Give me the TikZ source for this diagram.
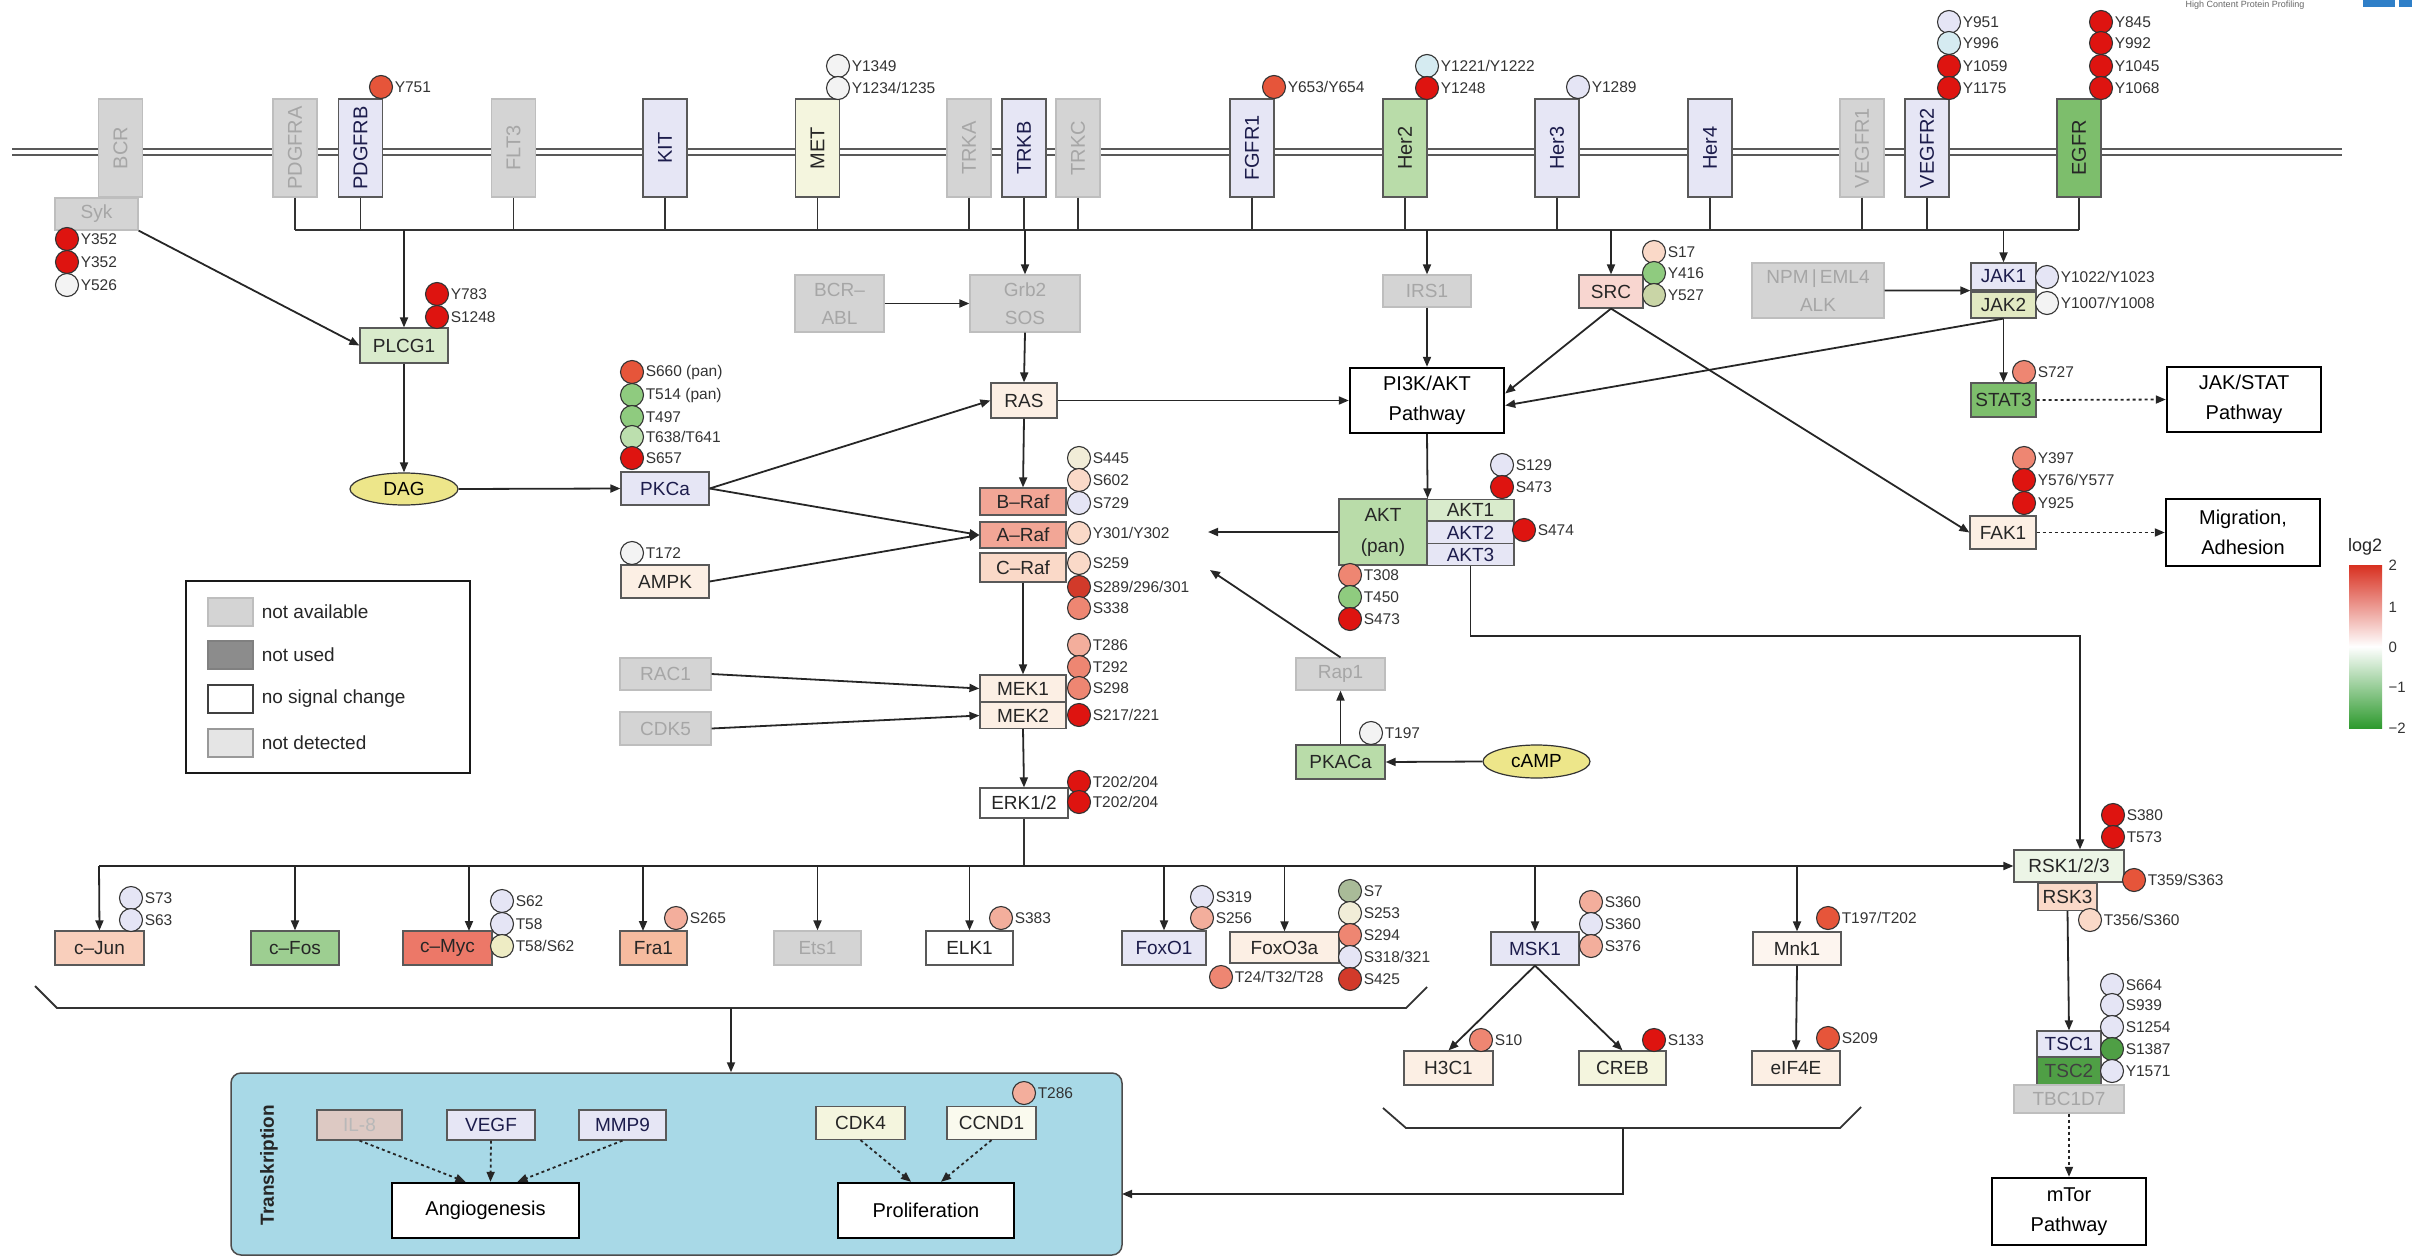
\documentclass[tikz,border=0pt]{standalone}
\usepackage{fontspec}
\setmainfont{Liberation Sans}
\usetikzlibrary{shapes}
\usetikzlibrary{positioning}
\usetikzlibrary{arrows.meta}
\definecolor{naFill}{HTML}{D4D4D4}
\definecolor{naDraw}{HTML}{BEBEBE}
\definecolor{naText}{HTML}{A6A6A6}
\definecolor{lavF}{HTML}{E6E6F5}
\definecolor{lavT}{HTML}{1C1C4C}
\definecolor{grnA}{HTML}{D9EBCC}
\definecolor{grnB}{HTML}{B9DCA9}
\definecolor{grnC}{HTML}{7DBE6C}
\definecolor{grnD}{HTML}{4F9F45}
\definecolor{yelA}{HTML}{F4F5DE}
\definecolor{yelB}{HTML}{E2E9C2}
\definecolor{pchA}{HTML}{FCEFE4}
\definecolor{pchB}{HTML}{FAD9C8}
\definecolor{pchC}{HTML}{F6BB9F}
\definecolor{rafF}{HTML}{F2A696}
\definecolor{mycF}{HTML}{EC7868}
\definecolor{srcF}{HTML}{F8D6D0}
\definecolor{dagF}{HTML}{EDE68A}
\definecolor{transF}{HTML}{A8D9E7}
\definecolor{pR}{HTML}{DE1410}
\definecolor{pRd}{HTML}{D23A2A}
\definecolor{pRo}{HTML}{E6553A}
\definecolor{pS}{HTML}{EE8672}
\definecolor{pSl}{HTML}{F3AE9C}
\definecolor{pP}{HTML}{FAD9C8}
\definecolor{pC}{HTML}{F1EDD8}
\definecolor{pW}{HTML}{F3F3F3}
\definecolor{pL}{HTML}{E5E5F5}
\definecolor{pB}{HTML}{D5EBF1}
\definecolor{pG}{HTML}{8FCB7F}
\definecolor{pGl}{HTML}{BCDFAE}
\definecolor{pO}{HTML}{C9D5A6}
\definecolor{pGg}{HTML}{A9BB98}
\definecolor{pY}{HTML}{EEECC4}
\definecolor{cbR}{HTML}{D83020}
\definecolor{cbG}{HTML}{2E9A2E}
\definecolor{logoB}{HTML}{2F7FC8}
\tikzset{
    prot/.style = {rectangle, draw=black!65, line width=1.2pt, inner sep=0pt, align=center, font=\fontsize{19}{28}\selectfont, text=black!85},
    protl/.style = {prot, fill=lavF, text=lavT},
    protna/.style = {prot, draw=naDraw, fill=naFill, text=naText},
    recep/.style = {prot, minimum width=44pt, minimum height=98pt, font=\fontsize{20}{20}\selectfont},
    recl/.style = {recep, fill=lavF, text=lavT},
    recna/.style = {recep, draw=naDraw, fill=naFill, text=naText},
    pathbox/.style = {rectangle, draw=black, line width=2.4pt, fill=white, align=center, minimum width=154pt, minimum height=65pt, font=\fontsize{20}{30}\selectfont},
    molec/.style = {ellipse, draw=black!80, line width=1.2pt, fill=dagF, inner sep=0pt, font=\fontsize{19}{19}\selectfont},
    site/.style = {circle, draw=black!80, line width=1.1pt, minimum size=23pt, inner sep=0pt},
    slab/.style = {font=\fontsize{15.5}{15.5}\selectfont, inner sep=1.5pt, text=black!80},
    swatch/.style = {rectangle, minimum width=45pt, minimum height=28pt, inner sep=0pt, line width=1.2pt},
    legl/.style = {font=\fontsize{19}{19}\selectfont, inner sep=8pt, text=black!85},
    tick/.style = {anchor=west, font=\fontsize{15}{15}\selectfont, text=black!80},
    arr/.style = {-{Triangle[length=10pt,width=8pt]}, line width=1.8pt, black!85},
    darr/.style = {arr, dash pattern=on 3pt off 3pt},
    link/.style = {-, line width=1.8pt, black!80},
    membrane/.style = {line width=1.6pt, black!65}
}
\begin{document}
\begin{tikzpicture}[x=1pt,y=-1pt]
\useasboundingbox (0,0) rectangle (2412,1258);
% membrane
\draw[membrane] (12,149) -- (2342,149);
\draw[membrane] (12,155) -- (2342,155);
%
\node[recna] at (120.5,148) (bcr) {\rotatebox{90}{BCR}};
\node[recna] at (295,148) (pdgfra) {\rotatebox{90}{PDGFRA}};
\node[recl] at (360.5,148) (pdgfrb) {\rotatebox{90}{PDGFRB}};
\node[recna] at (513.5,148) (flt3) {\rotatebox{90}{FLT3}};
\node[recl] at (665,148) (kit) {\rotatebox{90}{KIT}};
\node[recep,fill=yelA] at (817.5,148) (met) {\rotatebox{90}{MET}};
\node[recna] at (969,148) (trka) {\rotatebox{90}{TRKA}};
\node[recl] at (1024,148) (trkb) {\rotatebox{90}{TRKB}};
\node[recna] at (1078,148) (trkc) {\rotatebox{90}{TRKC}};
\node[recl] at (1252,148) (fgfr1) {\rotatebox{90}{FGFR1}};
\node[recep,fill=grnB] at (1405,148) (her2) {\rotatebox{90}{Her2}};
\node[recl] at (1557,148) (her3) {\rotatebox{90}{Her3}};
\node[recl] at (1710,148) (her4) {\rotatebox{90}{Her4}};
\node[recna] at (1862,148) (vegfr1) {\rotatebox{90}{VEGFR1}};
\node[recl] at (1927,148) (vegfr2) {\rotatebox{90}{VEGFR2}};
\node[recep,fill=grnC] at (2079,148) (egfr) {\rotatebox{90}{EGFR}};
%
\node[protna, minimum width=83pt, minimum height=32pt] at (96.5,214) (syk) {Syk};
\node[prot, fill=grnA, minimum width=88pt, minimum height=35pt] at (404,345.5) (plcg1) {PLCG1};
\node[molec, minimum width=108pt, minimum height=32pt] at (404,489) (dag) {DAG};
\node[protl, minimum width=88pt, minimum height=33pt] at (665,488.5) (pkca) {PKCa};
\node[prot, fill=pchA, minimum width=88pt, minimum height=33pt] at (665,581.5) (ampk) {AMPK};
\node[protna, minimum width=89pt, minimum height=57pt] at (839.5,303.5) (bcrabl) {BCR–\\ABL};
\node[protna, minimum width=110pt, minimum height=57pt] at (1025,303.5) (grb2) {Grb2\\SOS};
\node[prot, fill=pchA, minimum width=66pt, minimum height=35pt] at (1024,400.5) (ras) {RAS};
\node[prot, fill=rafF, minimum width=86pt, minimum height=27pt] at (1023,501.5) (braf) {B–Raf};
\node[prot, fill=rafF, minimum width=86pt, minimum height=26pt] at (1023,535) (araf) {A–Raf};
\node[prot, fill=pchB, minimum width=86pt, minimum height=29pt] at (1023,567.5) (craf) {C–Raf};
\node[protna, minimum width=91pt, minimum height=32pt] at (665.5,674) (rac1) {RAC1};
\node[protna, minimum width=91pt, minimum height=33pt] at (665.5,728.5) (cdk5) {CDK5};
\node[prot, fill=pchA, minimum width=86pt, minimum height=27pt] at (1023,688.5) (mek1) {MEK1};
\node[prot, fill=pchA, minimum width=86pt, minimum height=26pt] at (1023,715.5) (mek2) {MEK2};
\node[prot, fill=white, minimum width=88pt, minimum height=30pt] at (1024,803) (erk) {ERK1/2};
\node[protna, minimum width=88pt, minimum height=32pt] at (1427,291) (irs1) {IRS1};
\node[prot, fill=srcF, minimum width=64pt, minimum height=33pt] at (1611,291.5) (src) {SRC};
\node[protna, minimum width=132pt, minimum height=55pt] at (1818,290.5) (npm) {NPM\,|\,EML4\\ALK};
\node[protl, minimum width=65pt, minimum height=27pt] at (2003.5,276.5) (jak1) {JAK1};
\node[prot, fill=yelB, minimum width=65pt, minimum height=26pt] at (2003.5,305) (jak2) {JAK2};
\node[prot, fill=grnC, minimum width=65pt, minimum height=34pt] at (2003.5,400) (stat3) {STAT3};
\node[prot, fill=pchA, minimum width=66pt, minimum height=33pt] at (2003,532.5) (fak1) {FAK1};
\node[pathbox] at (1427,400.5) (pi3k) {PI3K/AKT\\Pathway};
\node[pathbox] at (2244,399.5) (jakstat) {JAK/STAT\\Pathway};
\node[pathbox, minimum height=67pt] at (2243,532.5) (migr) {Migration,\\Adhesion};
\node[prot, fill=grnB, minimum width=88pt, minimum height=66pt, font=\fontsize{19}{31}\selectfont] at (1383,532) (akt) {AKT\\(pan)};
\node[prot, fill=grnA, minimum width=87pt, minimum height=21pt] at (1470.5,510) (akt1) {AKT1};
\node[protl, minimum width=87pt, minimum height=22pt] at (1470.5,532.5) (akt2) {AKT2};
\node[protl, minimum width=87pt, minimum height=22pt] at (1470.5,554.5) (akt3) {AKT3};
\node[protna, minimum width=89pt, minimum height=32pt] at (1340.5,674) (rap1) {Rap1};
\node[prot, fill=grnB, minimum width=89pt, minimum height=34pt] at (1340.5,762) (pkaca) {PKACa};
\node[molec, minimum width=107pt, minimum height=33pt] at (1536.5,761.5) (camp) {cAMP};
\coordinate (rafIn) at (1208,532);
\coordinate (rafIn2) at (1210,570);
\coordinate (rskTurn) at (2080,636);
%
\node[prot, fill=pchC!70, minimum width=89pt, minimum height=34pt] at (99.5,948) (cjun) {c–Jun};
\node[prot, fill=grnC!75, minimum width=88pt, minimum height=34pt] at (295,948) (cfos) {c–Fos};
\node[prot, fill=mycF, minimum width=89pt, minimum height=34pt] at (447.5,948) (cmyc) {c–Myc};
\node[prot, fill=pchC, minimum width=67pt, minimum height=34pt] at (653.5,948) (fra1) {Fra1};
\node[protna, minimum width=87pt, minimum height=34pt] at (817.5,948) (ets1) {Ets1};
\node[prot, fill=white, minimum width=87pt, minimum height=34pt] at (969.5,948) (elk1) {ELK1};
\node[protl, minimum width=84pt, minimum height=34pt] at (1164,948) (foxo1) {FoxO1};
\node[prot, fill=pchA, minimum width=109pt, minimum height=31pt] at (1284.5,947.5) (foxo3a) {FoxO3a};
\node[protl, minimum width=88pt, minimum height=33pt] at (1535,948.5) (msk1) {MSK1};
\node[prot, fill=pchA!60, minimum width=88pt, minimum height=33pt] at (1797,948.5) (mnk1) {Mnk1};
\node[prot, fill=pchA, minimum width=89pt, minimum height=34pt] at (1448.5,1068) (h3c1) {H3C1};
\node[prot, fill=yelA, minimum width=87pt, minimum height=34pt] at (1622.5,1068) (creb) {CREB};
\node[prot, fill=pchA, minimum width=88pt, minimum height=34pt] at (1796,1068) (eif4e) {eIF4E};
\node[prot, fill=grnA!50, minimum width=110pt, minimum height=32pt] at (2069,866) (rsk) {RSK1/2/3};
\node[prot, fill=pchB, minimum width=59pt, minimum height=27pt] at (2067.5,897) (rsk3) {RSK3};
\node[protl, minimum width=64pt, minimum height=26pt] at (2069,1044) (tsc1) {TSC1};
\node[prot, fill=grnD, text=black!75, minimum width=64pt, minimum height=28pt] at (2069,1071) (tsc2) {TSC2};
\node[protna, minimum width=110pt, minimum height=28pt] at (2069,1099) (tbc) {TBC1D7};
\node[pathbox, minimum height=67pt] at (2069,1211.5) (mtor) {mTor\\Pathway};
\coordinate (bbus) at (99,866);
\coordinate (mycIn) at (469,931);
\coordinate (fraIn) at (643,931);
% transcription
\node[draw=black!70, line width=1.5pt, fill=transF, rounded corners=10pt, minimum width=891pt, minimum height=182pt] at (676.5,1164) (trans) {};
\node[rotate=90, font=\bfseries\fontsize{19}{19}\selectfont, text=black!85] at (269,1165) (transLbl) {Transkription};
\node[prot, fill=naFill!70!pSl, text=naText!80, minimum width=85pt, minimum height=30pt] at (359.5,1125) (il8) {IL-8};
\node[protl, minimum width=88pt, minimum height=30pt] at (491,1125) (vegf) {VEGF};
\node[protl, minimum width=87pt, minimum height=30pt] at (622.5,1125) (mmp9) {MMP9};
\node[prot, fill=yelA, minimum width=89pt, minimum height=33pt] at (860.5,1123) (cdk4) {CDK4};
\node[prot, fill=yelA!50, minimum width=89pt, minimum height=33pt] at (991.5,1123) (ccnd1) {CCND1};
\node[pathbox, minimum width=187pt, minimum height=55pt] at (485.5,1210.5) (angio) {Angiogenesis};
\node[pathbox, minimum width=176pt, minimum height=55pt] at (926,1210.5) (prolif) {Proliferation};
\coordinate (br1) at (731,1008);
\coordinate (br2) at (1623,1128);
\coordinate (transIn) at (1122,1194);
% legend
\node[draw=black!90, line width=2.4pt, minimum width=284pt, minimum height=192pt, inner sep=0pt] at (328,677) (legend) {};
\node[swatch, fill=naFill, draw=naDraw, label={[legl]right:not available}] at (230.5,612) (lgNA) {};
\node[swatch, fill=black!45, draw=black!50, label={[legl]right:not used}] at (230.5,655) (lgNU) {};
\node[swatch, fill=white, draw=black!75, label={[legl]right:no signal change}] at (230.5,699) (lgNS) {};
\node[swatch, fill=black!10, draw=black!40, label={[legl]right:not detected}] at (230.5,743) (lgND) {};
% log2 scale
\node[font=\fontsize{18}{18}\selectfont, text=black!85] at (2365,547) (log2) {log2};
\shade[top color=cbR, bottom color=cbG, middle color=white] (2349,565) rectangle (2382,728);
\node[tick] at (2385,565) (tk2) {2};
\node[tick] at (2385,607) (tk1) {1};
\node[tick] at (2385,647) (tk0) {0};
\node[tick] at (2385,687) (tkm1) {−1};
\node[tick] at (2385,728) (tkm2) {−2};
\node[anchor=north, font=\fontsize{9}{9}\selectfont, text=black!60] at (2245,-3) (hcpp) {High Content Protein Profiling};
\fill[logoB] (2363,-4) rectangle (2395,7);
\fill[logoB] (2399,-4) rectangle (2412,7);
%
\coordinate (bus) at (295,230);
\coordinate (busE) at (2079,230);
\draw[link] (pdgfra.south) -- (pdgfra.south |- bus);
\draw[link] (pdgfrb.south) -- (pdgfrb.south |- bus);
\draw[link] (flt3.south) -- (flt3.south |- bus);
\draw[link] (kit.south) -- (kit.south |- bus);
\draw[link] (met.south) -- (met.south |- bus);
\draw[link] (trka.south) -- (trka.south |- bus);
\draw[link] (trkb.south) -- (trkb.south |- bus);
\draw[link] (trkc.south) -- (trkc.south |- bus);
\draw[link] (fgfr1.south) -- (fgfr1.south |- bus);
\draw[link] (her2.south) -- (her2.south |- bus);
\draw[link] (her3.south) -- (her3.south |- bus);
\draw[link] (her4.south) -- (her4.south |- bus);
\draw[link] (vegfr1.south) -- (vegfr1.south |- bus);
\draw[link] (vegfr2.south) -- (vegfr2.south |- bus);
\draw[link] (egfr.south) -- (egfr.south |- bus);
\draw[link] (bus) -- (busE);
\draw[arr] (plcg1.north |- bus) -- (plcg1.north);
\draw[arr] (grb2.north |- bus) -- (grb2.north);
\draw[arr] (irs1.north |- bus) -- (irs1.north);
\draw[arr] (src.north |- bus) -- (src.north);
\draw[arr] (jak1.north |- bus) -- (jak1.north);
%
\draw[arr] (syk.south east) -- (plcg1.west);
\draw[arr] (plcg1.south) -- (dag.north);
\draw[arr] (dag.east) -- (pkca.west);
\draw[arr] (bcrabl.east) -- (grb2.west);
\draw[arr] (grb2.south) -- (ras.north);
\draw[arr] (pkca.east) -- (ras.west);
\draw[arr] (pkca.east) -- (araf.west);
\draw[arr] (ampk.east) -- (araf.west);
\draw[arr] (ras.south) -- (braf.north);
\draw[arr] (ras.east) -- (pi3k.west);
\draw[arr] (craf.south) -- (mek1.north);
\draw[arr] (rac1.east) -- (mek1.west);
\draw[arr] (cdk5.east) -- (mek2.west);
\draw[arr] (mek2.south) -- (erk.north);
\draw[arr] (irs1.south) -- (pi3k.north);
\draw[arr] (src.south) -- ([yshift=7pt]pi3k.east);
\draw[arr] (jak2.south) -- ([yshift=-5pt]pi3k.east);
\draw[arr] (src.south) -- (fak1.west);
\draw[arr] (npm.east) -- (jak1.south west);
\draw[arr] (jak2.south) -- (stat3.north);
\draw[darr] (stat3.east) -- (jakstat.west);
\draw[darr] (fak1.east) -- (migr.west);
\draw[arr] (pi3k.south) -- (akt.north east);
\draw[arr] (akt.west) -- (rafIn);
\draw[arr] (rap1.north) -- (rafIn2);
\draw[arr] (pkaca.north) -- (rap1.south);
\draw[arr] (camp.west) -- (pkaca.east);
\draw[arr] (akt3.south) |- (rskTurn) -- (rskTurn |- rsk.north);
%
\draw[link] (erk.south) -- (erk.south |- bbus);
\draw[arr] (bbus) -- (rsk.west);
\draw[arr] (bbus) -- (cjun.north);
\draw[arr] (cfos.north |- bbus) -- (cfos.north);
\draw[arr] (mycIn |- bbus) -- (mycIn);
\draw[arr] (fraIn |- bbus) -- (fraIn);
\draw[arr] (ets1.north |- bbus) -- (ets1.north);
\draw[arr] (elk1.north |- bbus) -- (elk1.north);
\draw[arr] (foxo1.north |- bbus) -- (foxo1.north);
\draw[arr] (foxo3a.north |- bbus) -- (foxo3a.north);
\draw[arr] (msk1.north |- bbus) -- (msk1.north);
\draw[arr] (mnk1.north |- bbus) -- (mnk1.north);
\draw[arr] (msk1.south) -- (h3c1.north);
\draw[arr] (msk1.south) -- (creb.north);
\draw[arr] (mnk1.south) -- (eif4e.north);
\draw[arr] (rsk3.south) -- (tsc1.north);
\draw[darr] (tbc.south) -- (mtor.north);
% brackets
\draw[link] (35,986) -- (57,1008) -- (1406,1008) -- (1427,987);
\draw[arr] (br1) -- (br1 |- trans.north);
\draw[link] (1383,1108) -- (1406,1128) -- (1840,1128) -- (1861,1107);
\draw[arr] (br2) |- (transIn);
\draw[darr] (il8.south) -- ([xshift=-20pt]angio.north);
\draw[darr] (vegf.south) -- ([xshift=5pt]angio.north);
\draw[darr] (mmp9.south) -- ([xshift=32pt]angio.north);
\draw[darr] (cdk4.south) -- ([xshift=-15pt]prolif.north);
\draw[darr] (ccnd1.south) -- ([xshift=15pt]prolif.north);
% sites
\node[site,fill=pR,label={[slab]right:Y352}] at (67,239) (sSyk1) {};
\node[site,fill=pR,label={[slab]right:Y352}] at (67,262) (sSyk2) {};
\node[site,fill=pW,label={[slab]right:Y526}] at (67,285) (sSyk3) {};
\node[site,fill=pRo,label={[slab]right:Y751}] at (381,87) (sPdgfrb) {};
\node[site,fill=pW,label={[slab]right:Y1349}] at (838,66) (sMet1) {};
\node[site,fill=pW,label={[slab]right:Y1234/1235}] at (838,88) (sMet2) {};
\node[site,fill=pRo,label={[slab]right:Y653/Y654}] at (1274,87) (sFgfr) {};
\node[site,fill=pB,label={[slab]right:Y1221/Y1222}] at (1427,66) (sHer2a) {};
\node[site,fill=pR,label={[slab]right:Y1248}] at (1427,88) (sHer2b) {};
\node[site,fill=pL,label={[slab]right:Y1289}] at (1578,87) (sHer3) {};
\node[site,fill=pL,label={[slab]right:Y951}] at (1949,22) (sVeg1) {};
\node[site,fill=pB,label={[slab]right:Y996}] at (1949,43) (sVeg2) {};
\node[site,fill=pR,label={[slab]right:Y1059}] at (1949,66) (sVeg3) {};
\node[site,fill=pR,label={[slab]right:Y1175}] at (1949,88) (sVeg4) {};
\node[site,fill=pR,label={[slab]right:Y845}] at (2101,22) (sEgf1) {};
\node[site,fill=pR,label={[slab]right:Y992}] at (2101,43) (sEgf2) {};
\node[site,fill=pR,label={[slab]right:Y1045}] at (2101,66) (sEgf3) {};
\node[site,fill=pR,label={[slab]right:Y1068}] at (2101,88) (sEgf4) {};
\node[site,fill=pR,label={[slab]right:Y783}] at (437,294) (sPlc1) {};
\node[site,fill=pR,label={[slab]right:S1248}] at (437,317) (sPlc2) {};
\node[site,fill=pP,label={[slab]right:S17}] at (1654,252) (sSrc1) {};
\node[site,fill=pG,label={[slab]right:Y416}] at (1654,273) (sSrc2) {};
\node[site,fill=pO,label={[slab]right:Y527}] at (1654,295) (sSrc3) {};
\node[site,fill=pL,label={[slab]right:Y1022/Y1023}] at (2047,277) (sJak1) {};
\node[site,fill=pW,label={[slab]right:Y1007/Y1008}] at (2047,303) (sJak2) {};
\node[site,fill=pS,label={[slab]right:S727}] at (2024,372) (sStat) {};
\node[site,fill=pRo,label={[slab]right:S660 (pan)}] at (632,372) (sPkc1) {};
\node[site,fill=pG,label={[slab]right:T514 (pan)}] at (632,395) (sPkc2) {};
\node[site,fill=pG,label={[slab]right:T497}] at (632,417) (sPkc3) {};
\node[site,fill=pGl,label={[slab]right:T638/T641}] at (632,437) (sPkc4) {};
\node[site,fill=pR,label={[slab]right:S657}] at (632,458) (sPkc5) {};
\node[site,fill=pW,label={[slab]right:T172}] at (632,553) (sAmpk) {};
\node[site,fill=pC,label={[slab]right:S445}] at (1079,458) (sRaf1) {};
\node[site,fill=pP,label={[slab]right:S602}] at (1079,480) (sRaf2) {};
\node[site,fill=pL,label={[slab]right:S729}] at (1079,503) (sRaf3) {};
\node[site,fill=pP,label={[slab]right:Y301/Y302}] at (1079,533) (sRaf4) {};
\node[site,fill=pP,label={[slab]right:S259}] at (1079,563) (sRaf5) {};
\node[site,fill=pRd,label={[slab]right:S289/296/301}] at (1079,587) (sRaf6) {};
\node[site,fill=pS,label={[slab]right:S338}] at (1079,608) (sRaf7) {};
\node[site,fill=pSl,label={[slab]right:T286}] at (1079,645) (sMek1) {};
\node[site,fill=pS,label={[slab]right:T292}] at (1079,667) (sMek2) {};
\node[site,fill=pS,label={[slab]right:S298}] at (1079,688) (sMek3) {};
\node[site,fill=pR,label={[slab]right:S217/221}] at (1079,715) (sMek4) {};
\node[site,fill=pR,label={[slab]right:T202/204}] at (1079,782) (sErk1) {};
\node[site,fill=pR,label={[slab]right:T202/204}] at (1079,802) (sErk2) {};
\node[site,fill=pL,label={[slab]right:S129}] at (1502,465) (sAkt1) {};
\node[site,fill=pR,label={[slab]right:S473}] at (1502,487) (sAkt2) {};
\node[site,fill=pR,label={[slab]right:S474}] at (1524,530) (sAkt3) {};
\node[site,fill=pS,label={[slab]right:T308}] at (1350,575) (sAkt4) {};
\node[site,fill=pG,label={[slab]right:T450}] at (1350,597) (sAkt5) {};
\node[site,fill=pR,label={[slab]right:S473}] at (1350,619) (sAkt6) {};
\node[site,fill=pW,label={[slab]right:T197}] at (1371,733) (sPka) {};
\node[site,fill=pS,label={[slab]right:Y397}] at (2024,458) (sFak1) {};
\node[site,fill=pR,label={[slab]right:Y576/Y577}] at (2024,480) (sFak2) {};
\node[site,fill=pR,label={[slab]right:Y925}] at (2024,503) (sFak3) {};
\node[site,fill=pR,label={[slab]right:S380}] at (2113,815) (sRsk1) {};
\node[site,fill=pR,label={[slab]right:T573}] at (2113,837) (sRsk2) {};
\node[site,fill=pRo,label={[slab]right:T359/S363}] at (2134,880) (sRsk3) {};
\node[site,fill=pP,label={[slab]right:T356/S360}] at (2090,920) (sRsk4) {};
\node[site,fill=pL,label={[slab]right:S664}] at (2112,985) (sTsc1) {};
\node[site,fill=pL,label={[slab]right:S939}] at (2112,1005) (sTsc2) {};
\node[site,fill=pL,label={[slab]right:S1254}] at (2112,1027) (sTsc3) {};
\node[site,fill=grnD,label={[slab]right:S1387}] at (2112,1049) (sTsc4) {};
\node[site,fill=pL,label={[slab]right:Y1571}] at (2112,1071) (sTsc5) {};
\node[site,fill=pL,label={[slab]right:S73}] at (131,898) (sJun1) {};
\node[site,fill=pL,label={[slab]right:S63}] at (131,920) (sJun2) {};
\node[site,fill=pL,label={[slab]right:S62}] at (502,901) (sMyc1) {};
\node[site,fill=pL,label={[slab]right:T58}] at (502,924) (sMyc2) {};
\node[site,fill=pY,label={[slab]right:T58/S62}] at (502,946) (sMyc3) {};
\node[site,fill=pSl,label={[slab]right:S265}] at (676,918) (sFra) {};
\node[site,fill=pSl,label={[slab]right:S383}] at (1001,918) (sElk) {};
\node[site,fill=pL,label={[slab]right:S319}] at (1202,897) (sFo1) {};
\node[site,fill=pSl,label={[slab]right:S256}] at (1202,918) (sFo2) {};
\node[site,fill=pS,label={[slab]right:T24/T32/T28}] at (1221,977) (sFo3) {};
\node[site,fill=pGg,label={[slab]right:S7}] at (1350,891) (sFox1) {};
\node[site,fill=pC,label={[slab]right:S253}] at (1350,913) (sFox2) {};
\node[site,fill=pS,label={[slab]right:S294}] at (1350,935) (sFox3) {};
\node[site,fill=pL,label={[slab]right:S318/321}] at (1350,957) (sFox4) {};
\node[site,fill=pRd,label={[slab]right:S425}] at (1350,979) (sFox5) {};
\node[site,fill=pSl,label={[slab]right:S360}] at (1591,902) (sMsk1) {};
\node[site,fill=pL,label={[slab]right:S360}] at (1591,924) (sMsk2) {};
\node[site,fill=pSl,label={[slab]right:S376}] at (1591,946) (sMsk3) {};
\node[site,fill=pRo,label={[slab]right:T197/T202}] at (1828,918) (sMnk) {};
\node[site,fill=pS,label={[slab]right:S10}] at (1481,1040) (sH3) {};
\node[site,fill=pR,label={[slab]right:S133}] at (1654,1040) (sCreb) {};
\node[site,fill=pRo,label={[slab]right:S209}] at (1828,1038) (sEif) {};
\node[site,fill=pSl,label={[slab]right:T286}] at (1024,1093) (sCcnd) {};
\end{tikzpicture}
\end{document}
